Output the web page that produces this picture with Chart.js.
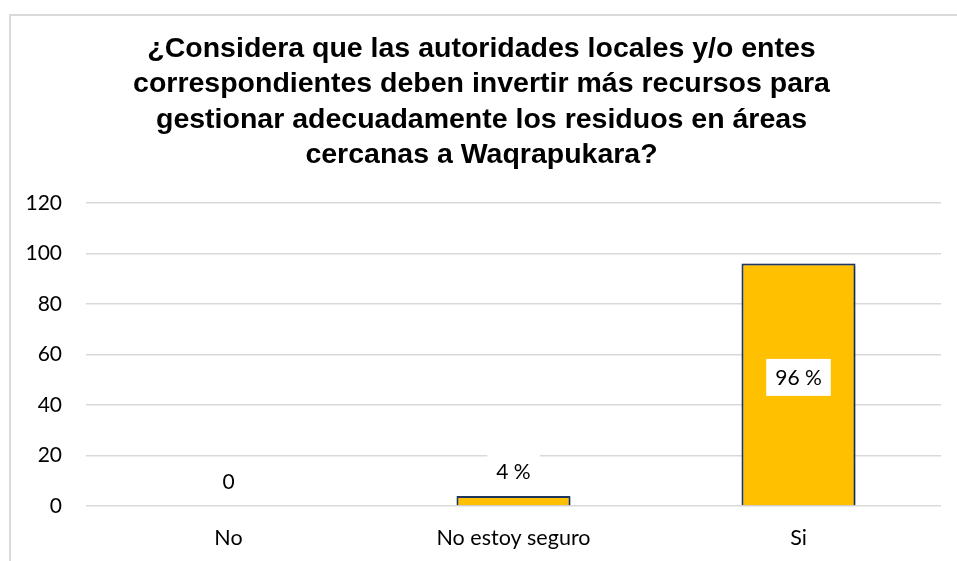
<!DOCTYPE html>
<html>
<head>
<meta charset="utf-8">
<script src="https://cdn.jsdelivr.net/npm/chart.js@4"></script>
<style>
  html, body { margin: 0; padding: 0; background: #fff; overflow: hidden; }
  #frame { position: absolute; left: 9px; top: 14px; width: 1000px; height: 600px;
           border-top: 2px solid #d9d9d9; border-left: 2px solid #d9d9d9; }
  #wrap { position: absolute; left: 0; top: 0; width: 957px; height: 561px; }
</style>
</head>
<body>
<div id="frame"></div>
<div id="wrap"><canvas id="chart"></canvas></div>
<script>
const categories = ['No', 'No estoy seguro', 'Si'];
const values = [0, 4, 96];
const valueLabels = ['0', '4 %', '96 %'];
const yTicks = [0, 20, 40, 60, 80, 100, 120];

const titleLines = [
	'¿Considera que las autoridades locales y/o entes',
	'correspondientes deben invertir más recursos para',
	'gestionar adecuadamente los residuos en áreas',
	'cercanas a Waqrapukara?'
];

const labelFont = '21px Lato, "Open Sans", sans-serif';

// soft shadow behind the bars, like the office chart
const barShadow = {
	id: 'barShadow',
	beforeDatasetDraw(chart) {
		const ctx = chart.ctx;
		ctx.save();
		ctx.shadowColor = 'rgba(0,0,0,0.35)';
		ctx.shadowBlur = 4;
		ctx.shadowOffsetX = 1;
		ctx.shadowOffsetY = 1;
	},
	afterDatasetDraw(chart) {
		chart.ctx.restore();
	}
};

// value labels: above small bars, centred in a white box inside tall bars
const valueLabelPlugin = {
	id: 'valueLabels',
	afterDatasetsDraw(chart) {
		const ctx = chart.ctx;
		const meta = chart.getDatasetMeta(0);
		ctx.save();
		ctx.font = labelFont;
		ctx.textAlign = 'center';
		ctx.textBaseline = 'middle';
		meta.data.forEach((bar, i) => {
			const text = valueLabels[i];
			const inside = values[i] > 50;
			const y = inside ? (bar.y + bar.base) / 2 - 7 : bar.y - 25;
			const w = ctx.measureText(text).width + 18;
			const h = inside ? 37 : 32;
			if (values[i] > 0) {
				ctx.fillStyle = '#fff';
				ctx.fillRect(bar.x - w / 2, y - h / 2, w, h);
			}
			ctx.fillStyle = '#000';
			ctx.fillText(text, bar.x, y + 1);
		});
		ctx.restore();
	}
};

new Chart(document.getElementById('chart'), {
	type: 'bar',
	data: {
		labels: categories,
		datasets: [{
			data: values,
			backgroundColor: '#FFC000',
			borderColor: '#1F3864',
			borderWidth: 2,
			borderSkipped: 'bottom',
			categoryPercentage: 1,
			barPercentage: 0.4
		}]
	},
	options: {
		responsive: true,
		maintainAspectRatio: false,
		animation: false,
		layout: { padding: { left: 22, right: 16, top: 0, bottom: 10 } },
		plugins: {
			legend: { display: false },
			tooltip: { enabled: false },
			title: {
				display: true,
				text: titleLines,
				color: '#000',
				font: { family: '"Liberation Sans", Arial, sans-serif', size: 28.5, weight: 'bold', lineHeight: 1.245 },
				padding: { top: 31, bottom: 30 }
			}
		},
		scales: {
			x: {
				grid: { display: false, drawTicks: false },
				border: { display: false },
				ticks: { color: '#000', font: { family: 'Lato, "Open Sans", sans-serif', size: 21.5 }, padding: 19 },
				afterFit(s) { s.height = 45; }
			},
			y: {
				min: 0,
				max: 120,
				afterBuildTicks(s) { s.ticks = yTicks.map(v => ({ value: v })); },
				grid: { color: '#d9d9d9', lineWidth: 1.5, drawTicks: false },
				border: { display: false },
				ticks: { color: '#000', font: { family: 'Lato, "Open Sans", sans-serif', size: 21 }, padding: 24 },
				afterFit(s) { s.width = 64; }
			}
		}
	},
	plugins: [barShadow, valueLabelPlugin]
});
</script>
</body>
</html>
